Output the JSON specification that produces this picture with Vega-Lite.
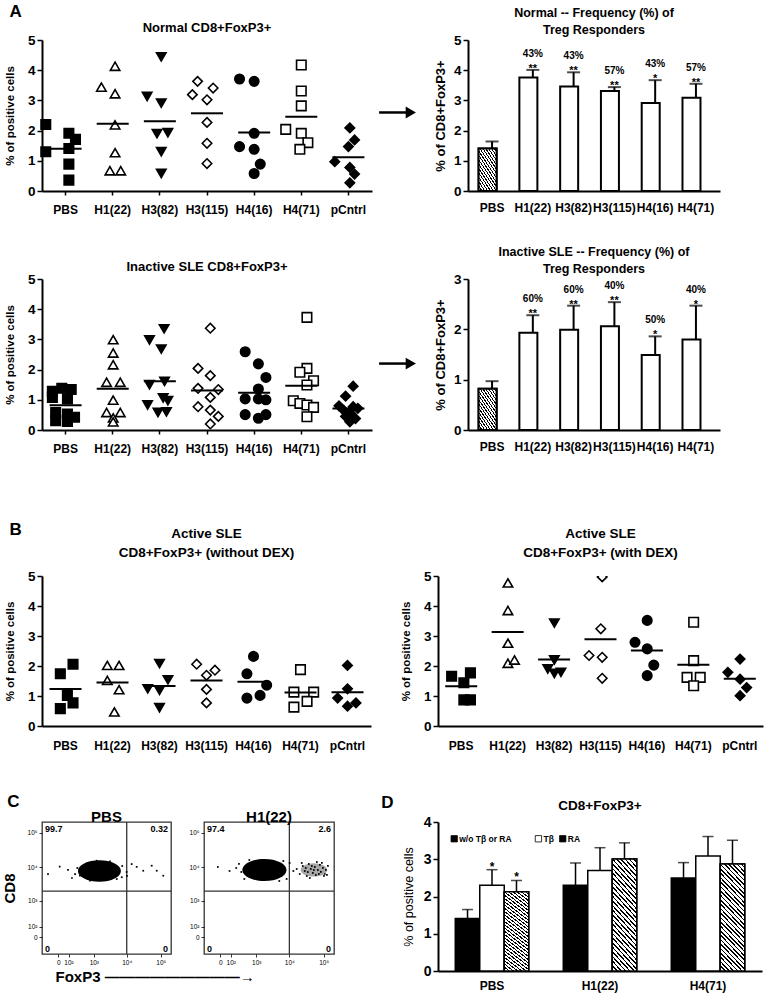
{
"$schema": "https://vega.github.io/schema/vega-lite/v6.json",
"background": "white",
"padding": {"left": 2, "top": 2, "right": 2, "bottom": 2},
"config": {
 "font": "Liberation Sans",
 "view": {"stroke": null},
 "axis": {"labelFont": "Liberation Sans", "titleFont": "Liberation Sans", "labelColor": "black", "titleColor": "black", "domainColor": "black", "tickColor": "black", "labelFontWeight": "bold", "titleFontWeight": "bold", "grid": false, "domainWidth": 2, "tickWidth": 1.5, "labelOverlap": false},
 "title": {"font": "Liberation Sans", "fontWeight": "bold", "color": "black"},
 "text": {"font": "Liberation Sans", "color": "black"},
 "legend": {"labelFont": "Liberation Sans"}
},
"datasets": {
 "normal": [
  {"g":"PBS","dx":-0.42,"v":2.2},{"g":"PBS","dx":0.07,"v":1.91},{"g":"PBS","dx":0.21,"v":1.71},{"g":"PBS","dx":-0.42,"v":1.3},{"g":"PBS","dx":0.07,"v":1.41},{"g":"PBS","dx":0.07,"v":0.89},{"g":"PBS","dx":0.07,"v":0.36},
  {"g":"H1(22)","dx":0.05,"v":4.13},{"g":"H1(22)","dx":-0.24,"v":3.44},{"g":"H1(22)","dx":0.05,"v":3.22},{"g":"H1(22)","dx":0.05,"v":2.19},{"g":"H1(22)","dx":0.05,"v":1.27},{"g":"H1(22)","dx":-0.06,"v":0.67},{"g":"H1(22)","dx":0.17,"v":0.67},
  {"g":"H3(82)","dx":0.03,"v":4.44},{"g":"H3(82)","dx":-0.27,"v":3.13},{"g":"H3(82)","dx":0.03,"v":2.91},{"g":"H3(82)","dx":-0.06,"v":1.9},{"g":"H3(82)","dx":0.17,"v":1.93},{"g":"H3(82)","dx":0.03,"v":1.3},{"g":"H3(82)","dx":0.03,"v":0.58},
  {"g":"H3(115)","dx":-0.2,"v":3.63},{"g":"H3(115)","dx":0.13,"v":3.41},{"g":"H3(115)","dx":-0.31,"v":3.19},{"g":"H3(115)","dx":0,"v":3.02},{"g":"H3(115)","dx":0,"v":2.27},{"g":"H3(115)","dx":0,"v":1.58},{"g":"H3(115)","dx":0,"v":0.91},
  {"g":"H4(16)","dx":-0.31,"v":3.71},{"g":"H4(16)","dx":0,"v":3.63},{"g":"H4(16)","dx":0,"v":1.91},{"g":"H4(16)","dx":-0.31,"v":1.47},{"g":"H4(16)","dx":0,"v":1.38},{"g":"H4(16)","dx":0.13,"v":0.89},{"g":"H4(16)","dx":0,"v":0.58},
  {"g":"H4(71)","dx":0,"v":4.17},{"g":"H4(71)","dx":0,"v":3.31},{"g":"H4(71)","dx":0,"v":2.82},{"g":"H4(71)","dx":-0.33,"v":2.04},{"g":"H4(71)","dx":0,"v":1.91},{"g":"H4(71)","dx":0.14,"v":1.6},{"g":"H4(71)","dx":-0.03,"v":1.38},
  {"g":"pCntrl","dx":0.03,"v":2.09},{"g":"pCntrl","dx":0.13,"v":1.69},{"g":"pCntrl","dx":0,"v":1.47},{"g":"pCntrl","dx":-0.29,"v":0.97},{"g":"pCntrl","dx":0.03,"v":0.78},{"g":"pCntrl","dx":0.13,"v":0.56},{"g":"pCntrl","dx":0.03,"v":0.27}
 ],
 "inactive": [
  {"g":"PBS","dx":-0.28,"v":1.28},{"g":"PBS","dx":-0.08,"v":1.38},{"g":"PBS","dx":0.12,"v":1.34},{"g":"PBS","dx":-0.28,"v":1.08},{"g":"PBS","dx":0.04,"v":1.03},{"g":"PBS","dx":-0.21,"v":0.58},{"g":"PBS","dx":0.04,"v":0.53},{"g":"PBS","dx":0.19,"v":0.42},{"g":"PBS","dx":-0.21,"v":0.31},{"g":"PBS","dx":0.04,"v":0.28},
  {"g":"H1(22)","dx":0.01,"v":2.99},{"g":"H1(22)","dx":0.01,"v":2.55},{"g":"H1(22)","dx":0.01,"v":2.16},{"g":"H1(22)","dx":-0.13,"v":1.58},{"g":"H1(22)","dx":0.16,"v":1.58},{"g":"H1(22)","dx":0.01,"v":0.99},{"g":"H1(22)","dx":-0.13,"v":0.58},{"g":"H1(22)","dx":0.16,"v":0.58},{"g":"H1(22)","dx":0.01,"v":0.4},{"g":"H1(22)","dx":0.01,"v":0.27},
  {"g":"H3(82)","dx":0.09,"v":3.35},{"g":"H3(82)","dx":-0.22,"v":2.98},{"g":"H3(82)","dx":0.03,"v":2.68},{"g":"H3(82)","dx":-0.22,"v":1.5},{"g":"H3(82)","dx":0.1,"v":1.61},{"g":"H3(82)","dx":0.07,"v":1.06},{"g":"H3(82)","dx":0.17,"v":0.97},{"g":"H3(82)","dx":-0.26,"v":0.83},{"g":"H3(82)","dx":-0.04,"v":0.58},{"g":"H3(82)","dx":0.14,"v":0.6},
  {"g":"H3(115)","dx":0.07,"v":3.37},{"g":"H3(115)","dx":-0.19,"v":2.04},{"g":"H3(115)","dx":0.07,"v":1.8},{"g":"H3(115)","dx":-0.19,"v":1.38},{"g":"H3(115)","dx":0.24,"v":1.34},{"g":"H3(115)","dx":0.07,"v":1.08},{"g":"H3(115)","dx":-0.19,"v":0.77},{"g":"H3(115)","dx":0.07,"v":0.66},{"g":"H3(115)","dx":0.24,"v":0.45},{"g":"H3(115)","dx":0.07,"v":0.2},
  {"g":"H4(16)","dx":-0.19,"v":2.59},{"g":"H4(16)","dx":0.09,"v":2.19},{"g":"H4(16)","dx":0.25,"v":1.74},{"g":"H4(16)","dx":0.09,"v":1.36},{"g":"H4(16)","dx":-0.19,"v":1.03},{"g":"H4(16)","dx":0.09,"v":1.03},{"g":"H4(16)","dx":0.25,"v":1.0},{"g":"H4(16)","dx":-0.19,"v":0.51},{"g":"H4(16)","dx":0.09,"v":0.39},{"g":"H4(16)","dx":0.25,"v":0.51},
  {"g":"H4(71)","dx":0.12,"v":3.73},{"g":"H4(71)","dx":0.12,"v":2.04},{"g":"H4(71)","dx":-0.03,"v":1.91},{"g":"H4(71)","dx":0.26,"v":1.63},{"g":"H4(71)","dx":0.12,"v":1.49},{"g":"H4(71)","dx":-0.17,"v":0.97},{"g":"H4(71)","dx":-0.03,"v":0.88},{"g":"H4(71)","dx":0.12,"v":0.83},{"g":"H4(71)","dx":0.26,"v":0.75},{"g":"H4(71)","dx":0.12,"v":0.44},
  {"g":"pCntrl","dx":0.1,"v":1.45},{"g":"pCntrl","dx":-0.06,"v":1.12},{"g":"pCntrl","dx":-0.2,"v":0.8},{"g":"pCntrl","dx":0.1,"v":0.77},{"g":"pCntrl","dx":0.2,"v":0.72},{"g":"pCntrl","dx":-0.1,"v":0.65},{"g":"pCntrl","dx":0.05,"v":0.55},{"g":"pCntrl","dx":-0.06,"v":0.45},{"g":"pCntrl","dx":0.15,"v":0.38},{"g":"pCntrl","dx":0.03,"v":0.27}
 ],
 "activeNo": [
  {"g":"PBS","dx":-0.11,"v":1.74},{"g":"PBS","dx":0.16,"v":2.06},{"g":"PBS","dx":0.04,"v":1.02},{"g":"PBS","dx":0.16,"v":0.77},{"g":"PBS","dx":-0.11,"v":0.58},
  {"g":"H1(22)","dx":-0.11,"v":2.02},{"g":"H1(22)","dx":0.14,"v":2.02},{"g":"H1(22)","dx":-0.11,"v":1.52},{"g":"H1(22)","dx":0.14,"v":1.21},{"g":"H1(22)","dx":0.04,"v":0.47},
  {"g":"H3(82)","dx":0,"v":2.08},{"g":"H3(82)","dx":0.18,"v":1.54},{"g":"H3(82)","dx":-0.25,"v":1.24},{"g":"H3(82)","dx":0,"v":1.19},{"g":"H3(82)","dx":0,"v":0.61},
  {"g":"H3(115)","dx":-0.21,"v":2.06},{"g":"H3(115)","dx":0.18,"v":1.86},{"g":"H3(115)","dx":0,"v":1.69},{"g":"H3(115)","dx":0,"v":1.22},{"g":"H3(115)","dx":0,"v":0.77},
  {"g":"H4(16)","dx":0,"v":2.32},{"g":"H4(16)","dx":-0.14,"v":1.74},{"g":"H4(16)","dx":0.28,"v":1.36},{"g":"H4(16)","dx":-0.14,"v":0.93},{"g":"H4(16)","dx":0.14,"v":1.02},
  {"g":"H4(71)","dx":0,"v":1.88},{"g":"H4(71)","dx":-0.14,"v":1.13},{"g":"H4(71)","dx":0.28,"v":1.13},{"g":"H4(71)","dx":0.14,"v":0.82},{"g":"H4(71)","dx":-0.14,"v":0.63},
  {"g":"pCntrl","dx":0,"v":2.02},{"g":"pCntrl","dx":0,"v":1.24},{"g":"pCntrl","dx":-0.21,"v":0.93},{"g":"pCntrl","dx":0.18,"v":0.77},{"g":"pCntrl","dx":0,"v":0.66}
 ],
 "activeDex": [
  {"g":"PBS","dx":-0.21,"v":1.66},{"g":"PBS","dx":0.19,"v":1.77},{"g":"PBS","dx":0.05,"v":1.44},{"g":"PBS","dx":0.05,"v":0.87},{"g":"PBS","dx":0.19,"v":0.87},
  {"g":"H1(22)","dx":0,"v":4.77},{"g":"H1(22)","dx":0,"v":3.85},{"g":"H1(22)","dx":0,"v":2.76},{"g":"H1(22)","dx":0,"v":2.09},{"g":"H1(22)","dx":0.14,"v":2.2},
  {"g":"H3(82)","dx":0,"v":3.43},{"g":"H3(82)","dx":0,"v":2.2},{"g":"H3(82)","dx":-0.14,"v":1.9},{"g":"H3(82)","dx":0,"v":1.75},{"g":"H3(82)","dx":0.14,"v":1.79},
  {"g":"H3(115)","dx":0.03,"v":4.97},{"g":"H3(115)","dx":0,"v":3.24},{"g":"H3(115)","dx":-0.25,"v":2.35},{"g":"H3(115)","dx":0.03,"v":2.29},{"g":"H3(115)","dx":0.03,"v":1.59},
  {"g":"H4(16)","dx":0,"v":3.52},{"g":"H4(16)","dx":-0.26,"v":2.79},{"g":"H4(16)","dx":0,"v":2.57},{"g":"H4(16)","dx":0.14,"v":2.03},{"g":"H4(16)","dx":0,"v":1.68},
  {"g":"H4(71)","dx":0,"v":3.46},{"g":"H4(71)","dx":0,"v":2.18},{"g":"H4(71)","dx":-0.14,"v":1.62},{"g":"H4(71)","dx":0.14,"v":1.62},{"g":"H4(71)","dx":0,"v":1.34},
  {"g":"pCntrl","dx":0,"v":2.23},{"g":"pCntrl","dx":-0.26,"v":1.79},{"g":"pCntrl","dx":0,"v":1.56},{"g":"pCntrl","dx":0.14,"v":1.28},{"g":"pCntrl","dx":0,"v":1.01}
 ],
 "normalBars": [
  {"g":"PBS","m":1.41,"u":1.64,"sig":"","pct":""},{"g":"H1(22)","m":3.76,"u":4.01,"sig":"**","pct":"43%"},{"g":"H3(82)","m":3.46,"u":3.93,"sig":"**","pct":"43%"},{"g":"H3(115)","m":3.31,"u":3.44,"sig":"**","pct":"57%"},{"g":"H4(16)","m":2.91,"u":3.67,"sig":"*","pct":"43%"},{"g":"H4(71)","m":3.09,"u":3.55,"sig":"**","pct":"57%"}
 ],
 "inactiveBars": [
  {"g":"PBS","m":0.82,"u":0.97,"sig":"","pct":""},{"g":"H1(22)","m":1.93,"u":2.28,"sig":"**","pct":"60%"},{"g":"H3(82)","m":1.99,"u":2.47,"sig":"**","pct":"60%"},{"g":"H3(115)","m":2.06,"u":2.54,"sig":"**","pct":"40%"},{"g":"H4(16)","m":1.49,"u":1.86,"sig":"*","pct":"50%"},{"g":"H4(71)","m":1.8,"u":2.47,"sig":"*","pct":"40%"}
 ],
 "dBars": [
  {"g":"PBS","s":"w/o Tβ or RA","m":1.41,"u":1.65,"sig":""},{"g":"PBS","s":"Tβ","m":2.3,"u":2.72,"sig":"*"},{"g":"PBS","s":"RA","m":2.13,"u":2.43,"sig":"*"},
  {"g":"H1(22)","s":"w/o Tβ or RA","m":2.3,"u":2.9,"sig":""},{"g":"H1(22)","s":"Tβ","m":2.7,"u":3.31,"sig":""},{"g":"H1(22)","s":"RA","m":3.01,"u":3.44,"sig":""},
  {"g":"H4(71)","s":"w/o Tβ or RA","m":2.5,"u":2.91,"sig":""},{"g":"H4(71)","s":"Tβ","m":3.09,"u":3.61,"sig":""},{"g":"H4(71)","s":"RA","m":2.87,"u":3.51,"sig":""}
 ],
 "dLegend": [
  {"s":"w/o Tβ or RA","lx":0.05,"ly":3.55},{"s":"Tβ","lx":0.31,"ly":3.55},{"s":"RA","lx":0.385,"ly":3.55}
 ],
 "flowPBS": [
  {"k":"core","x":1500,"y":7800},
  {"k":"dot","x":-100,"y":6370},{"k":"dot","x":10,"y":10460},{"k":"dot","x":93,"y":8380},{"k":"dot","x":151,"y":4890},{"k":"dot","x":210,"y":6370},{"k":"dot","x":260,"y":9550},{"k":"dot","x":330,"y":5700},{"k":"dot","x":9950,"y":7350},{"k":"dot","x":14000,"y":12400},{"k":"dot","x":19700,"y":10300},{"k":"dot","x":30700,"y":7960},{"k":"dot","x":54400,"y":11100},{"k":"dot","x":76300,"y":7960},{"k":"dot","x":118700,"y":5700},{"k":"dot","x":7130,"y":5150},{"k":"dot","x":750,"y":4070},{"k":"dot","x":5050,"y":4560},{"k":"dot","x":582,"y":13100},{"k":"dot","x":3180,"y":14900},{"k":"dot","x":1230,"y":15500},{"k":"dot","x":395,"y":6400},{"k":"dot","x":7340,"y":10920},{"k":"dot","x":10180,"y":5600},{"k":"dot","x":592,"y":10220},
  {"k":"L","t":"99.7","x":-200,"y":130000},{"k":"R","t":"0.32","x":200000,"y":130000},{"k":"L","t":"0","x":-200,"y":-110},{"k":"R","t":"0","x":200000,"y":-110}
 ],
 "flowH1": [
  {"k":"core","x":1800,"y":8400},{"k":"core2","x":52000,"y":8400},
  {"k":"dot","x":16390,"y":8950},{"k":"dot","x":20080,"y":6400},{"k":"dot","x":24600,"y":10920},{"k":"dot","x":28170,"y":7830},{"k":"dot","x":32260,"y":5600},{"k":"dot","x":36930,"y":12470},{"k":"dot","x":42280,"y":8950},{"k":"dot","x":48400,"y":6850},{"k":"dot","x":55400,"y":10220},{"k":"dot","x":59250,"y":5990},{"k":"dot","x":67800,"y":8370},{"k":"dot","x":77630,"y":11670},{"k":"dot","x":83030,"y":7320},{"k":"dot","x":95050,"y":9560},{"k":"dot","x":101700,"y":5600},{"k":"dot","x":116300,"y":8370},{"k":"dot","x":133100,"y":10920},{"k":"dot","x":39520,"y":4896},{"k":"dot","x":63390,"y":14240},{"k":"dot","x":23000,"y":13330},{"k":"dot","x":30160,"y":9560},{"k":"dot","x":51770,"y":8370},{"k":"dot","x":72560,"y":6400},{"k":"dot","x":88840,"y":13330},{"k":"dot","x":108700,"y":6400},{"k":"dot","x":34530,"y":7320},{"k":"dot","x":45250,"y":10920},{"k":"dot","x":124500,"y":5990},
  {"k":"dot","x":-19,"y":10220},{"k":"dot","x":84,"y":7830},{"k":"dot","x":188,"y":9560},{"k":"dot","x":304,"y":7320},{"k":"dot","x":395,"y":4580},{"k":"dot","x":246,"y":12470},{"k":"dot","x":10180,"y":13330},{"k":"dot","x":8300,"y":4580},{"k":"dot","x":13100,"y":7830},{"k":"dot","x":6620,"y":15230},{"k":"dot","x":592,"y":16270},{"k":"dot","x":5040,"y":4000},
  {"k":"L","t":"97.4","x":-200,"y":130000},{"k":"R","t":"2.6","x":200000,"y":130000},{"k":"L","t":"0","x":-200,"y":-110},{"k":"R","t":"0","x":200000,"y":-110}
 ]
},
"vconcat": [
 {"vconcat": [
  {"title": {"text": "A", "anchor": "start", "fontSize": 17, "offset": -14, "dx": 5},
   "hconcat": [
    {"width": 330, "height": 151,
     "title": {"text": "Normal CD8+FoxP3+", "fontSize": 13, "offset": -2},
     "data": {"name": "normal"},
     "layer": [
      {"mark": {"type": "point", "filled": true, "size": 90, "stroke": "black", "strokeWidth": 1.6, "opacity": 1},
       "encoding": {
        "x": {"field": "g", "type": "nominal", "scale": {"type": "band", "domain": ["PBS","H1(22)","H3(82)","H3(115)","H4(16)","H4(71)","pCntrl"], "paddingInner": 0, "paddingOuter": 0}, "axis": {"title": null, "labelAngle": 0, "labelFontSize": 12, "tickSize": 4, "labelPadding": 9, "labelOverlap": false}},
        "xOffset": {"field": "dx", "type": "quantitative", "scale": {"domain": [-0.5, 0.5]}},
        "y": {"field": "v", "type": "quantitative", "scale": {"domain": [0, 5]}, "axis": {"title": "% of positive cells", "titleFontSize": 11.5, "values": [0,1,2,3,4,5], "labelFontSize": 13.5, "tickSize": 5, "titlePadding": 12, "labelOverlap": false}},
        "shape": {"field": "g", "type": "nominal", "scale": {"domain": ["PBS","H1(22)","H3(82)","H3(115)","H4(16)","H4(71)","pCntrl"], "range": ["square","triangle-up","triangle-down","diamond","circle","square","diamond"]}, "legend": null},
        "fill": {"field": "g", "type": "nominal", "scale": {"domain": ["PBS","H1(22)","H3(82)","H3(115)","H4(16)","H4(71)","pCntrl"], "range": ["black","white","black","white","black","white","black"]}, "legend": null}
       }},
      {"mark": {"type": "tick", "color": "black", "thickness": 2, "size": 32},
       "encoding": {"x": {"field": "g", "type": "nominal"}, "y": {"aggregate": "mean", "field": "v", "type": "quantitative", "axis": {"title": "% of positive cells", "titleFontSize": 11.5, "values": [0,1,2,3,4,5], "labelFontSize": 13.5, "tickSize": 5, "titlePadding": 12, "labelOverlap": false}}}}
     ]},
    {"width": 52, "height": 151,
     "data": {"values": [{"a": 0.04, "b": 0.65, "y": 2.6}]},
     "layer": [
      {"mark": {"type": "rule", "strokeWidth": 2.5, "color": "black"}, "encoding": {"x": {"field": "a", "type": "quantitative", "scale": {"domain": [0, 1]}, "axis": null}, "x2": {"field": "b"}, "y": {"field": "y", "type": "quantitative", "scale": {"domain": [0, 5]}, "axis": null}}},
      {"mark": {"type": "point", "shape": "triangle-right", "filled": true, "color": "black", "size": 140, "opacity": 1}, "encoding": {"x": {"field": "b", "type": "quantitative", "axis": null}, "y": {"field": "y", "type": "quantitative", "axis": null}}}
     ]},
    {"width": 252, "height": 151,
     "title": {"text": ["Normal -- Frequency (%) of", "Treg Responders"], "fontSize": 12.5, "lineHeight": 17, "offset": -3},
     "data": {"name": "normalBars"},
     "encoding": {"x": {"field": "g", "type": "nominal", "scale": {"domain": ["PBS","H1(22)","H3(82)","H3(115)","H4(16)","H4(71)"], "paddingInner": 0.34, "paddingOuter": 0.26}, "axis": {"title": null, "labelAngle": 0, "labelFontSize": 12, "tickSize": 0, "labelPadding": 11, "labelOverlap": false}},
      "y": {"field": "m", "type": "quantitative", "scale": {"domain": [0, 5]}, "axis": {"title": "% of CD8+FoxP3+", "titleFontSize": 13, "values": [0,1,2,3,4,5], "labelFontSize": 13.5, "tickSize": 5, "titlePadding": 6, "labelOverlap": false}}},
     "layer": [
      {"mark": {"type": "rule", "color": "black", "strokeWidth": 2}, "encoding": {"y2": {"field": "u"}}},
      {"mark": {"type": "tick", "color": "black", "thickness": 2, "size": 13}, "encoding": {"y": {"field": "u", "type": "quantitative", "axis": {"title": "% of CD8+FoxP3+", "titleFontSize": 13, "values": [0,1,2,3,4,5], "labelFontSize": 13.5, "tickSize": 5, "titlePadding": 6, "labelOverlap": false}}}},
      {"mark": {"type": "bar", "fill": "white", "stroke": "black", "strokeWidth": 2}},
      {"transform": [{"filter": "datum.g == 'PBS'"}],
       "mark": {"type": "bar", "stroke": "black", "strokeWidth": 2, "fill": {"gradient": "linear", "x1": 0, "y1": 1, "x2": 0.747, "y2": -0.162, "stops": [
        {"offset":0,"color":"#000"},{"offset":0.024,"color":"#000"},{"offset":0.024,"color":"#fff"},{"offset":0.0625,"color":"#fff"},
        {"offset":0.0625,"color":"#000"},{"offset":0.0863,"color":"#000"},{"offset":0.0863,"color":"#fff"},{"offset":0.125,"color":"#fff"},
        {"offset":0.125,"color":"#000"},{"offset":0.1488,"color":"#000"},{"offset":0.1488,"color":"#fff"},{"offset":0.1875,"color":"#fff"},
        {"offset":0.1875,"color":"#000"},{"offset":0.2113,"color":"#000"},{"offset":0.2113,"color":"#fff"},{"offset":0.25,"color":"#fff"},
        {"offset":0.25,"color":"#000"},{"offset":0.2738,"color":"#000"},{"offset":0.2738,"color":"#fff"},{"offset":0.3125,"color":"#fff"},
        {"offset":0.3125,"color":"#000"},{"offset":0.3363,"color":"#000"},{"offset":0.3363,"color":"#fff"},{"offset":0.375,"color":"#fff"},
        {"offset":0.375,"color":"#000"},{"offset":0.3988,"color":"#000"},{"offset":0.3988,"color":"#fff"},{"offset":0.4375,"color":"#fff"},
        {"offset":0.4375,"color":"#000"},{"offset":0.4613,"color":"#000"},{"offset":0.4613,"color":"#fff"},{"offset":0.5,"color":"#fff"},
        {"offset":0.5,"color":"#000"},{"offset":0.5238,"color":"#000"},{"offset":0.5238,"color":"#fff"},{"offset":0.5625,"color":"#fff"},
        {"offset":0.5625,"color":"#000"},{"offset":0.5863,"color":"#000"},{"offset":0.5863,"color":"#fff"},{"offset":0.625,"color":"#fff"},
        {"offset":0.625,"color":"#000"},{"offset":0.6488,"color":"#000"},{"offset":0.6488,"color":"#fff"},{"offset":0.6875,"color":"#fff"},
        {"offset":0.6875,"color":"#000"},{"offset":0.7113,"color":"#000"},{"offset":0.7113,"color":"#fff"},{"offset":0.75,"color":"#fff"},
        {"offset":0.75,"color":"#000"},{"offset":0.7738,"color":"#000"},{"offset":0.7738,"color":"#fff"},{"offset":0.8125,"color":"#fff"},
        {"offset":0.8125,"color":"#000"},{"offset":0.8363,"color":"#000"},{"offset":0.8363,"color":"#fff"},{"offset":0.875,"color":"#fff"},
        {"offset":0.875,"color":"#000"},{"offset":0.8988,"color":"#000"},{"offset":0.8988,"color":"#fff"},{"offset":0.9375,"color":"#fff"},
        {"offset":0.9375,"color":"#000"},{"offset":0.9613,"color":"#000"},{"offset":0.9613,"color":"#fff"},{"offset":1,"color":"#fff"}
       ]}}},
      {"mark": {"type": "text", "dy": 2, "fontSize": 11, "fontWeight": "bold", "baseline": "alphabetic"}, "encoding": {"y": {"field": "u", "type": "quantitative", "axis": {"title": "% of CD8+FoxP3+", "titleFontSize": 13, "values": [0,1,2,3,4,5], "labelFontSize": 13.5, "tickSize": 5, "titlePadding": 6, "labelOverlap": false}}, "text": {"field": "sig"}}},
      {"mark": {"type": "text", "dy": -13, "fontSize": 10, "fontWeight": "bold", "baseline": "alphabetic"}, "encoding": {"y": {"field": "u", "type": "quantitative", "axis": {"title": "% of CD8+FoxP3+", "titleFontSize": 13, "values": [0,1,2,3,4,5], "labelFontSize": 13.5, "tickSize": 5, "titlePadding": 6, "labelOverlap": false}}, "text": {"field": "pct"}}}
     ]}
   ], "spacing": 5},
  {"hconcat": [
    {"width": 330, "height": 151,
     "title": {"text": "Inactive SLE CD8+FoxP3+", "fontSize": 13, "offset": -2},
     "data": {"name": "inactive"},
     "layer": [
      {"mark": {"type": "point", "filled": true, "size": 90, "stroke": "black", "strokeWidth": 1.6, "opacity": 1},
       "encoding": {
        "x": {"field": "g", "type": "nominal", "scale": {"type": "band", "domain": ["PBS","H1(22)","H3(82)","H3(115)","H4(16)","H4(71)","pCntrl"], "paddingInner": 0, "paddingOuter": 0}, "axis": {"title": null, "labelAngle": 0, "labelFontSize": 12, "tickSize": 4, "labelPadding": 9, "labelOverlap": false}},
        "xOffset": {"field": "dx", "type": "quantitative", "scale": {"domain": [-0.5, 0.5]}},
        "y": {"field": "v", "type": "quantitative", "scale": {"domain": [0, 5]}, "axis": {"title": "% of positive cells", "titleFontSize": 11.5, "values": [0,1,2,3,4,5], "labelFontSize": 13.5, "tickSize": 5, "titlePadding": 12, "labelOverlap": false}},
        "shape": {"field": "g", "type": "nominal", "scale": {"domain": ["PBS","H1(22)","H3(82)","H3(115)","H4(16)","H4(71)","pCntrl"], "range": ["square","triangle-up","triangle-down","diamond","circle","square","diamond"]}, "legend": null},
        "fill": {"field": "g", "type": "nominal", "scale": {"domain": ["PBS","H1(22)","H3(82)","H3(115)","H4(16)","H4(71)","pCntrl"], "range": ["black","white","black","white","black","white","black"]}, "legend": null}
       }},
      {"mark": {"type": "tick", "color": "black", "thickness": 2, "size": 32},
       "encoding": {"x": {"field": "g", "type": "nominal"}, "y": {"aggregate": "mean", "field": "v", "type": "quantitative", "axis": {"title": "% of positive cells", "titleFontSize": 11.5, "values": [0,1,2,3,4,5], "labelFontSize": 13.5, "tickSize": 5, "titlePadding": 12, "labelOverlap": false}}}}
     ]},
    {"width": 52, "height": 151,
     "data": {"values": [{"a": 0.04, "b": 0.65, "y": 2.2}]},
     "layer": [
      {"mark": {"type": "rule", "strokeWidth": 2.5, "color": "black"}, "encoding": {"x": {"field": "a", "type": "quantitative", "scale": {"domain": [0, 1]}, "axis": null}, "x2": {"field": "b"}, "y": {"field": "y", "type": "quantitative", "scale": {"domain": [0, 5]}, "axis": null}}},
      {"mark": {"type": "point", "shape": "triangle-right", "filled": true, "color": "black", "size": 140, "opacity": 1}, "encoding": {"x": {"field": "b", "type": "quantitative", "axis": null}, "y": {"field": "y", "type": "quantitative", "axis": null}}}
     ]},
    {"width": 252, "height": 151,
     "title": {"text": ["Inactive SLE -- Frequency (%) of", "Treg Responders"], "fontSize": 12.5, "lineHeight": 17, "offset": -3},
     "data": {"name": "inactiveBars"},
     "encoding": {"x": {"field": "g", "type": "nominal", "scale": {"domain": ["PBS","H1(22)","H3(82)","H3(115)","H4(16)","H4(71)"], "paddingInner": 0.34, "paddingOuter": 0.26}, "axis": {"title": null, "labelAngle": 0, "labelFontSize": 12, "tickSize": 0, "labelPadding": 11, "labelOverlap": false}},
      "y": {"field": "m", "type": "quantitative", "scale": {"domain": [0, 3]}, "axis": {"title": "% of CD8+FoxP3+", "titleFontSize": 13, "values": [0,1,2,3], "labelFontSize": 13.5, "tickSize": 5, "titlePadding": 6, "labelOverlap": false}}},
     "layer": [
      {"mark": {"type": "rule", "color": "black", "strokeWidth": 2}, "encoding": {"y2": {"field": "u"}}},
      {"mark": {"type": "tick", "color": "black", "thickness": 2, "size": 13}, "encoding": {"y": {"field": "u", "type": "quantitative", "axis": {"title": "% of CD8+FoxP3+", "titleFontSize": 13, "values": [0,1,2,3], "labelFontSize": 13.5, "tickSize": 5, "titlePadding": 6, "labelOverlap": false}}}},
      {"mark": {"type": "bar", "fill": "white", "stroke": "black", "strokeWidth": 2}},
      {"transform": [{"filter": "datum.g == 'PBS'"}],
       "mark": {"type": "bar", "stroke": "black", "strokeWidth": 2, "fill": {"gradient": "linear", "x1": 0, "y1": 1, "x2": 0.747, "y2": -0.162, "stops": [
        {"offset":0,"color":"#000"},{"offset":0.024,"color":"#000"},{"offset":0.024,"color":"#fff"},{"offset":0.0625,"color":"#fff"},
        {"offset":0.0625,"color":"#000"},{"offset":0.0863,"color":"#000"},{"offset":0.0863,"color":"#fff"},{"offset":0.125,"color":"#fff"},
        {"offset":0.125,"color":"#000"},{"offset":0.1488,"color":"#000"},{"offset":0.1488,"color":"#fff"},{"offset":0.1875,"color":"#fff"},
        {"offset":0.1875,"color":"#000"},{"offset":0.2113,"color":"#000"},{"offset":0.2113,"color":"#fff"},{"offset":0.25,"color":"#fff"},
        {"offset":0.25,"color":"#000"},{"offset":0.2738,"color":"#000"},{"offset":0.2738,"color":"#fff"},{"offset":0.3125,"color":"#fff"},
        {"offset":0.3125,"color":"#000"},{"offset":0.3363,"color":"#000"},{"offset":0.3363,"color":"#fff"},{"offset":0.375,"color":"#fff"},
        {"offset":0.375,"color":"#000"},{"offset":0.3988,"color":"#000"},{"offset":0.3988,"color":"#fff"},{"offset":0.4375,"color":"#fff"},
        {"offset":0.4375,"color":"#000"},{"offset":0.4613,"color":"#000"},{"offset":0.4613,"color":"#fff"},{"offset":0.5,"color":"#fff"},
        {"offset":0.5,"color":"#000"},{"offset":0.5238,"color":"#000"},{"offset":0.5238,"color":"#fff"},{"offset":0.5625,"color":"#fff"},
        {"offset":0.5625,"color":"#000"},{"offset":0.5863,"color":"#000"},{"offset":0.5863,"color":"#fff"},{"offset":0.625,"color":"#fff"},
        {"offset":0.625,"color":"#000"},{"offset":0.6488,"color":"#000"},{"offset":0.6488,"color":"#fff"},{"offset":0.6875,"color":"#fff"},
        {"offset":0.6875,"color":"#000"},{"offset":0.7113,"color":"#000"},{"offset":0.7113,"color":"#fff"},{"offset":0.75,"color":"#fff"},
        {"offset":0.75,"color":"#000"},{"offset":0.7738,"color":"#000"},{"offset":0.7738,"color":"#fff"},{"offset":0.8125,"color":"#fff"},
        {"offset":0.8125,"color":"#000"},{"offset":0.8363,"color":"#000"},{"offset":0.8363,"color":"#fff"},{"offset":0.875,"color":"#fff"},
        {"offset":0.875,"color":"#000"},{"offset":0.8988,"color":"#000"},{"offset":0.8988,"color":"#fff"},{"offset":0.9375,"color":"#fff"},
        {"offset":0.9375,"color":"#000"},{"offset":0.9613,"color":"#000"},{"offset":0.9613,"color":"#fff"},{"offset":1,"color":"#fff"}
       ]}}},
      {"mark": {"type": "text", "dy": 2, "fontSize": 11, "fontWeight": "bold", "baseline": "alphabetic"}, "encoding": {"y": {"field": "u", "type": "quantitative", "axis": {"title": "% of CD8+FoxP3+", "titleFontSize": 13, "values": [0,1,2,3], "labelFontSize": 13.5, "tickSize": 5, "titlePadding": 6, "labelOverlap": false}}, "text": {"field": "sig"}}},
      {"mark": {"type": "text", "dy": -13, "fontSize": 10, "fontWeight": "bold", "baseline": "alphabetic"}, "encoding": {"y": {"field": "u", "type": "quantitative", "axis": {"title": "% of CD8+FoxP3+", "titleFontSize": 13, "values": [0,1,2,3], "labelFontSize": 13.5, "tickSize": 5, "titlePadding": 6, "labelOverlap": false}}, "text": {"field": "pct"}}}
     ]}
   ], "spacing": 5}
 ], "spacing": 30},
 {"vconcat": [
  {"title": {"text": "B", "anchor": "start", "fontSize": 17, "offset": -12, "dx": 5},
   "hconcat": [
    {"width": 329, "height": 150,
     "title": {"text": ["Active SLE", "CD8+FoxP3+ (without DEX)"], "fontSize": 13.5, "lineHeight": 19, "offset": 10},
     "data": {"name": "activeNo"},
     "layer": [
      {"mark": {"type": "point", "filled": true, "size": 90, "stroke": "black", "strokeWidth": 1.6, "opacity": 1},
       "encoding": {
        "x": {"field": "g", "type": "nominal", "scale": {"type": "band", "domain": ["PBS","H1(22)","H3(82)","H3(115)","H4(16)","H4(71)","pCntrl"], "paddingInner": 0, "paddingOuter": 0}, "axis": {"title": null, "labelAngle": 0, "labelFontSize": 12, "tickSize": 0, "labelPadding": 14, "labelOverlap": false}},
        "xOffset": {"field": "dx", "type": "quantitative", "scale": {"domain": [-0.5, 0.5]}},
        "y": {"field": "v", "type": "quantitative", "scale": {"domain": [0, 5]}, "axis": {"title": "% of positive cells", "titleFontSize": 11.5, "values": [0,1,2,3,4,5], "labelFontSize": 13.5, "tickSize": 5, "titlePadding": 12, "labelOverlap": false}},
        "shape": {"field": "g", "type": "nominal", "scale": {"domain": ["PBS","H1(22)","H3(82)","H3(115)","H4(16)","H4(71)","pCntrl"], "range": ["square","triangle-up","triangle-down","diamond","circle","square","diamond"]}, "legend": null},
        "fill": {"field": "g", "type": "nominal", "scale": {"domain": ["PBS","H1(22)","H3(82)","H3(115)","H4(16)","H4(71)","pCntrl"], "range": ["black","white","black","white","black","white","black"]}, "legend": null}
       }},
      {"mark": {"type": "tick", "color": "black", "thickness": 2, "size": 32},
       "encoding": {"x": {"field": "g", "type": "nominal"}, "y": {"aggregate": "mean", "field": "v", "type": "quantitative", "axis": {"title": "% of positive cells", "titleFontSize": 11.5, "values": [0,1,2,3,4,5], "labelFontSize": 13.5, "tickSize": 5, "titlePadding": 12, "labelOverlap": false}}}}
     ]},
    {"width": 325, "height": 150,
     "title": {"text": ["Active SLE", "CD8+FoxP3+ (with DEX)"], "fontSize": 13.5, "lineHeight": 19, "offset": 10},
     "data": {"name": "activeDex"},
     "layer": [
      {"mark": {"type": "point", "filled": true, "size": 90, "stroke": "black", "strokeWidth": 1.6, "opacity": 1, "clip": true},
       "encoding": {
        "x": {"field": "g", "type": "nominal", "scale": {"type": "band", "domain": ["PBS","H1(22)","H3(82)","H3(115)","H4(16)","H4(71)","pCntrl"], "paddingInner": 0, "paddingOuter": 0}, "axis": {"title": null, "labelAngle": 0, "labelFontSize": 12, "tickSize": 0, "labelPadding": 14, "labelOverlap": false}},
        "xOffset": {"field": "dx", "type": "quantitative", "scale": {"domain": [-0.5, 0.5]}},
        "y": {"field": "v", "type": "quantitative", "scale": {"domain": [0, 5]}, "axis": {"title": "% of positive cells", "titleFontSize": 11.5, "values": [0,1,2,3,4,5], "labelFontSize": 13.5, "tickSize": 5, "titlePadding": 12, "labelOverlap": false}},
        "shape": {"field": "g", "type": "nominal", "scale": {"domain": ["PBS","H1(22)","H3(82)","H3(115)","H4(16)","H4(71)","pCntrl"], "range": ["square","triangle-up","triangle-down","diamond","circle","square","diamond"]}, "legend": null},
        "fill": {"field": "g", "type": "nominal", "scale": {"domain": ["PBS","H1(22)","H3(82)","H3(115)","H4(16)","H4(71)","pCntrl"], "range": ["black","white","black","white","black","white","black"]}, "legend": null}
       }},
      {"mark": {"type": "tick", "color": "black", "thickness": 2, "size": 32},
       "encoding": {"x": {"field": "g", "type": "nominal"}, "y": {"aggregate": "mean", "field": "v", "type": "quantitative", "axis": {"title": "% of positive cells", "titleFontSize": 11.5, "values": [0,1,2,3,4,5], "labelFontSize": 13.5, "tickSize": 5, "titlePadding": 12, "labelOverlap": false}}}}
     ]}
   ], "spacing": 29},
  {"title": {"text": "C", "anchor": "start", "fontSize": 17, "offset": -17, "dx": 5},
   "hconcat": [
    {"hconcat": [
      {"width": 129, "height": 132,
       "view": {"stroke": "#333", "strokeWidth": 1.3},
       "title": {"text": "PBS", "fontSize": 15, "offset": -4},
       "data": {"name": "flowPBS"},
       "encoding": {
        "x": {"field": "x", "type": "quantitative", "scale": {"type": "symlog", "constant": 100, "domain": [-200, 200000], "nice": false, "zero": false},
           "axis": {"values": [0,100,1000,10000,100000], "labelExpr": "datum.value == 0 ? '0' : datum.value == 100 ? '10²' : datum.value == 1000 ? '10³' : datum.value == 10000 ? '10⁴' : '10⁵'", "labelFontSize": 6.5, "labelFontWeight": "normal", "tickSize": 3, "tickWidth": 0.8, "domain": false, "labelPadding": 2, "labelOverlap": false, "title": "FoxP3 —————————→", "titleFontSize": 15, "titleAnchor": "start", "titleAlign": "left", "titleX": 13, "titlePadding": 4}},
        "y": {"field": "y", "type": "quantitative", "scale": {"type": "symlog", "constant": 100, "domain": [-200, 200000], "nice": false, "zero": false},
           "axis": {"values": [0,100,1000,10000,100000], "labelExpr": "datum.value == 0 ? '0' : datum.value == 100 ? '10²' : datum.value == 1000 ? '10³' : datum.value == 10000 ? '10⁴' : '10⁵'", "labelFontSize": 6.5, "labelFontWeight": "normal", "tickSize": 3, "tickWidth": 0.8, "domain": false, "labelPadding": 2, "labelOverlap": false, "title": "CD8", "titleFontSize": 15, "titlePadding": 9}}
       },
       "layer": [
        {"data": {"values": [{"k": "vline", "x": 10000}]}, "mark": {"type": "rule", "color": "#333", "strokeWidth": 1.3}, "encoding": {"y": null}},
        {"data": {"values": [{"k": "hline", "y": 2000}]}, "mark": {"type": "rule", "color": "#333", "strokeWidth": 1.3}, "encoding": {"x": null}},
        {"transform": [{"filter": "datum.k == 'core'"}], "mark": {"type": "point", "shape": "M -1 0 A 1 0.5 0 1 0 1 0 A 1 0.5 0 1 0 -1 0 Z", "filled": true, "color": "black", "size": 1850, "opacity": 1}},
        {"transform": [{"filter": "datum.k == 'dot'"}], "mark": {"type": "square", "color": "black", "size": 3, "opacity": 1}},
        {"transform": [{"filter": "datum.k == 'L'"}], "mark": {"type": "text", "align": "left", "dx": 3, "fontSize": 9, "fontWeight": "bold", "baseline": "middle"}, "encoding": {"text": {"field": "t"}}},
        {"transform": [{"filter": "datum.k == 'R'"}], "mark": {"type": "text", "align": "right", "dx": -3, "fontSize": 9, "fontWeight": "bold", "baseline": "middle"}, "encoding": {"text": {"field": "t"}}}
       ]},
      {"width": 130, "height": 132,
       "view": {"stroke": "#333", "strokeWidth": 1.3},
       "title": {"text": "H1(22)", "fontSize": 15, "offset": -4},
       "data": {"name": "flowH1"},
       "encoding": {
        "x": {"field": "x", "type": "quantitative", "scale": {"type": "symlog", "constant": 100, "domain": [-200, 200000], "nice": false, "zero": false},
           "axis": {"values": [0,100,1000,10000,100000], "labelExpr": "datum.value == 0 ? '0' : datum.value == 100 ? '10²' : datum.value == 1000 ? '10³' : datum.value == 10000 ? '10⁴' : '10⁵'", "labelFontSize": 6.5, "labelFontWeight": "normal", "tickSize": 3, "tickWidth": 0.8, "domain": false, "labelPadding": 2, "labelOverlap": false, "title": null}},
        "y": {"field": "y", "type": "quantitative", "scale": {"type": "symlog", "constant": 100, "domain": [-200, 200000], "nice": false, "zero": false},
           "axis": {"values": [0,100,1000,10000,100000], "labelExpr": "datum.value == 0 ? '0' : datum.value == 100 ? '10²' : datum.value == 1000 ? '10³' : datum.value == 10000 ? '10⁴' : '10⁵'", "labelFontSize": 6.5, "labelFontWeight": "normal", "tickSize": 3, "tickWidth": 0.8, "domain": false, "labelPadding": 2, "labelOverlap": false, "title": null}}
       },
       "layer": [
        {"data": {"values": [{"k": "vline", "x": 10000}]}, "mark": {"type": "rule", "color": "#333", "strokeWidth": 1.3}, "encoding": {"y": null}},
        {"data": {"values": [{"k": "hline", "y": 2000}]}, "mark": {"type": "rule", "color": "#333", "strokeWidth": 1.3}, "encoding": {"x": null}},
        {"transform": [{"filter": "datum.k == 'core2'"}], "mark": {"type": "point", "shape": "M -1 0 A 1 0.5 0 1 0 1 0 A 1 0.5 0 1 0 -1 0 Z", "filled": true, "color": "black", "size": 700, "opacity": 0.35}},
        {"transform": [{"filter": "datum.k == 'core'"}], "mark": {"type": "point", "shape": "M -1 0 A 1 0.5 0 1 0 1 0 A 1 0.5 0 1 0 -1 0 Z", "filled": true, "color": "black", "size": 1950, "opacity": 1}},
        {"transform": [{"filter": "datum.k == 'dot'"}], "mark": {"type": "square", "color": "black", "size": 3, "opacity": 1}},
        {"transform": [{"filter": "datum.k == 'L'"}], "mark": {"type": "text", "align": "left", "dx": 3, "fontSize": 9, "fontWeight": "bold", "baseline": "middle"}, "encoding": {"text": {"field": "t"}}},
        {"transform": [{"filter": "datum.k == 'R'"}], "mark": {"type": "text", "align": "right", "dx": -3, "fontSize": 9, "fontWeight": "bold", "baseline": "middle"}, "encoding": {"text": {"field": "t"}}}
       ]}
     ], "spacing": 33, "bounds": "flush"},
    {"title": {"text": "D", "anchor": "start", "fontSize": 17, "offset": -13, "dx": -21},
     "hconcat": [
      {"width": 324, "height": 149,
       "title": {"text": "CD8+FoxP3+", "fontSize": 13.5, "offset": 3},
       "data": {"name": "dBars"},
       "resolve": {"scale": {"x": "independent"}},
       "encoding": {
        "y": {"field": "m", "type": "quantitative", "scale": {"domain": [0, 4]}, "axis": {"title": "% of positive cells", "titleFontSize": 12.5, "titleFontWeight": "normal", "values": [0,1,2,3,4], "labelFontSize": 14, "tickSize": 5, "titlePadding": 8, "labelOverlap": false}}
       },
       "layer": [
        {"mark": {"type": "rule", "color": "black", "strokeWidth": 1.5},
         "encoding": {
          "x": {"field": "g", "type": "nominal", "scale": {"domain": ["PBS","H1(22)","H4(71)"], "paddingInner": 0.32, "paddingOuter": 0.16}, "axis": {"title": null, "labelAngle": 0, "labelFontSize": 12, "ticks": false, "labelPadding": 9, "labelOverlap": false}},
          "xOffset": {"field": "s", "type": "nominal", "scale": {"domain": ["w/o Tβ or RA","Tβ","RA"]}},
          "y2": {"field": "u"}}},
        {"mark": {"type": "tick", "color": "black", "thickness": 1.5, "size": 11},
         "encoding": {
          "x": {"field": "g", "type": "nominal", "scale": {"domain": ["PBS","H1(22)","H4(71)"], "paddingInner": 0.32, "paddingOuter": 0.16}, "axis": null},
          "xOffset": {"field": "s", "type": "nominal", "scale": {"domain": ["w/o Tβ or RA","Tβ","RA"]}},
          "y": {"field": "u", "type": "quantitative", "axis": {"title": "% of positive cells", "titleFontSize": 12.5, "titleFontWeight": "normal", "values": [0,1,2,3,4], "labelFontSize": 14, "tickSize": 5, "titlePadding": 8, "labelOverlap": false}}}},
        {"mark": {"type": "bar", "stroke": "black", "strokeWidth": 1.5},
         "encoding": {
          "x": {"field": "g", "type": "nominal", "scale": {"domain": ["PBS","H1(22)","H4(71)"], "paddingInner": 0.32, "paddingOuter": 0.16}, "axis": null},
          "xOffset": {"field": "s", "type": "nominal", "scale": {"domain": ["w/o Tβ or RA","Tβ","RA"]}},
          "fill": {"field": "s", "type": "nominal", "scale": {"domain": ["w/o Tβ or RA","Tβ","RA"], "range": ["black","white","#555"]}, "legend": null}}},
        {"transform": [{"filter": "datum.s == 'RA'"}],
         "mark": {"type": "bar", "stroke": "black", "strokeWidth": 1.5, "fill": {"gradient": "linear", "x1": 0, "y1": 1, "x2": 0.282, "y2": -0.173, "stops": [
          {"offset":0,"color":"#000"},{"offset":0.0127,"color":"#000"},{"offset":0.0127,"color":"#fff"},{"offset":0.0333,"color":"#fff"},
          {"offset":0.0333,"color":"#000"},{"offset":0.046,"color":"#000"},{"offset":0.046,"color":"#fff"},{"offset":0.0667,"color":"#fff"},
          {"offset":0.0667,"color":"#000"},{"offset":0.0794,"color":"#000"},{"offset":0.0794,"color":"#fff"},{"offset":0.1,"color":"#fff"},
          {"offset":0.1,"color":"#000"},{"offset":0.1127,"color":"#000"},{"offset":0.1127,"color":"#fff"},{"offset":0.1333,"color":"#fff"},
          {"offset":0.1333,"color":"#000"},{"offset":0.146,"color":"#000"},{"offset":0.146,"color":"#fff"},{"offset":0.1667,"color":"#fff"},
          {"offset":0.1667,"color":"#000"},{"offset":0.1794,"color":"#000"},{"offset":0.1794,"color":"#fff"},{"offset":0.2,"color":"#fff"},
          {"offset":0.2,"color":"#000"},{"offset":0.2127,"color":"#000"},{"offset":0.2127,"color":"#fff"},{"offset":0.2333,"color":"#fff"},
          {"offset":0.2333,"color":"#000"},{"offset":0.246,"color":"#000"},{"offset":0.246,"color":"#fff"},{"offset":0.2667,"color":"#fff"},
          {"offset":0.2667,"color":"#000"},{"offset":0.2794,"color":"#000"},{"offset":0.2794,"color":"#fff"},{"offset":0.3,"color":"#fff"},
          {"offset":0.3,"color":"#000"},{"offset":0.3127,"color":"#000"},{"offset":0.3127,"color":"#fff"},{"offset":0.3333,"color":"#fff"},
          {"offset":0.3333,"color":"#000"},{"offset":0.346,"color":"#000"},{"offset":0.346,"color":"#fff"},{"offset":0.3667,"color":"#fff"},
          {"offset":0.3667,"color":"#000"},{"offset":0.3794,"color":"#000"},{"offset":0.3794,"color":"#fff"},{"offset":0.4,"color":"#fff"},
          {"offset":0.4,"color":"#000"},{"offset":0.4127,"color":"#000"},{"offset":0.4127,"color":"#fff"},{"offset":0.4333,"color":"#fff"},
          {"offset":0.4333,"color":"#000"},{"offset":0.446,"color":"#000"},{"offset":0.446,"color":"#fff"},{"offset":0.4667,"color":"#fff"},
          {"offset":0.4667,"color":"#000"},{"offset":0.4794,"color":"#000"},{"offset":0.4794,"color":"#fff"},{"offset":0.5,"color":"#fff"},
          {"offset":0.5,"color":"#000"},{"offset":0.5127,"color":"#000"},{"offset":0.5127,"color":"#fff"},{"offset":0.5333,"color":"#fff"},
          {"offset":0.5333,"color":"#000"},{"offset":0.546,"color":"#000"},{"offset":0.546,"color":"#fff"},{"offset":0.5667,"color":"#fff"},
          {"offset":0.5667,"color":"#000"},{"offset":0.5794,"color":"#000"},{"offset":0.5794,"color":"#fff"},{"offset":0.6,"color":"#fff"},
          {"offset":0.6,"color":"#000"},{"offset":0.6127,"color":"#000"},{"offset":0.6127,"color":"#fff"},{"offset":0.6333,"color":"#fff"},
          {"offset":0.6333,"color":"#000"},{"offset":0.646,"color":"#000"},{"offset":0.646,"color":"#fff"},{"offset":0.6667,"color":"#fff"},
          {"offset":0.6667,"color":"#000"},{"offset":0.6794,"color":"#000"},{"offset":0.6794,"color":"#fff"},{"offset":0.7,"color":"#fff"},
          {"offset":0.7,"color":"#000"},{"offset":0.7127,"color":"#000"},{"offset":0.7127,"color":"#fff"},{"offset":0.7333,"color":"#fff"},
          {"offset":0.7333,"color":"#000"},{"offset":0.746,"color":"#000"},{"offset":0.746,"color":"#fff"},{"offset":0.7667,"color":"#fff"},
          {"offset":0.7667,"color":"#000"},{"offset":0.7794,"color":"#000"},{"offset":0.7794,"color":"#fff"},{"offset":0.8,"color":"#fff"},
          {"offset":0.8,"color":"#000"},{"offset":0.8127,"color":"#000"},{"offset":0.8127,"color":"#fff"},{"offset":0.8333,"color":"#fff"},
          {"offset":0.8333,"color":"#000"},{"offset":0.846,"color":"#000"},{"offset":0.846,"color":"#fff"},{"offset":0.8667,"color":"#fff"},
          {"offset":0.8667,"color":"#000"},{"offset":0.8794,"color":"#000"},{"offset":0.8794,"color":"#fff"},{"offset":0.9,"color":"#fff"},
          {"offset":0.9,"color":"#000"},{"offset":0.9127,"color":"#000"},{"offset":0.9127,"color":"#fff"},{"offset":0.9333,"color":"#fff"},
          {"offset":0.9333,"color":"#000"},{"offset":0.946,"color":"#000"},{"offset":0.946,"color":"#fff"},{"offset":0.9667,"color":"#fff"},
          {"offset":0.9667,"color":"#000"},{"offset":0.9794,"color":"#000"},{"offset":0.9794,"color":"#fff"},{"offset":1,"color":"#fff"}
         ]}},
         "encoding": {
          "x": {"field": "g", "type": "nominal", "scale": {"domain": ["PBS","H1(22)","H4(71)"], "paddingInner": 0.32, "paddingOuter": 0.16}, "axis": null},
          "xOffset": {"field": "s", "type": "nominal", "scale": {"domain": ["w/o Tβ or RA","Tβ","RA"]}}}},
        {"mark": {"type": "text", "dy": 1, "fontSize": 12, "fontWeight": "bold", "baseline": "alphabetic"},
         "encoding": {
          "x": {"field": "g", "type": "nominal", "scale": {"domain": ["PBS","H1(22)","H4(71)"], "paddingInner": 0.32, "paddingOuter": 0.16}, "axis": null},
          "xOffset": {"field": "s", "type": "nominal", "scale": {"domain": ["w/o Tβ or RA","Tβ","RA"]}},
          "y": {"field": "u", "type": "quantitative", "axis": {"title": "% of positive cells", "titleFontSize": 12.5, "titleFontWeight": "normal", "values": [0,1,2,3,4], "labelFontSize": 14, "tickSize": 5, "titlePadding": 8, "labelOverlap": false}},
          "text": {"field": "sig"}}},
        {"data": {"name": "dLegend"},
         "mark": {"type": "square", "size": 40, "stroke": "black", "strokeWidth": 0.8, "opacity": 1},
         "encoding": {
          "x": {"field": "lx", "type": "quantitative", "scale": {"domain": [0, 1]}, "axis": null},
          "y": {"field": "ly", "type": "quantitative", "axis": {"title": "% of positive cells", "titleFontSize": 12.5, "titleFontWeight": "normal", "values": [0,1,2,3,4], "labelFontSize": 14, "tickSize": 5, "titlePadding": 8, "labelOverlap": false}},
          "fill": {"field": "s", "type": "nominal", "legend": null}}},
        {"data": {"name": "dLegend"},
         "mark": {"type": "text", "align": "left", "dx": 5, "fontSize": 8.5, "fontWeight": "bold", "baseline": "middle"},
         "encoding": {
          "x": {"field": "lx", "type": "quantitative", "scale": {"domain": [0, 1]}, "axis": null},
          "y": {"field": "ly", "type": "quantitative", "axis": {"title": "% of positive cells", "titleFontSize": 12.5, "titleFontWeight": "normal", "values": [0,1,2,3,4], "labelFontSize": 14, "tickSize": 5, "titlePadding": 8, "labelOverlap": false}},
          "text": {"field": "s"}}}
       ]}
     ]}
   ], "spacing": 45}
 ], "spacing": 41}
],
"spacing": 66
}
